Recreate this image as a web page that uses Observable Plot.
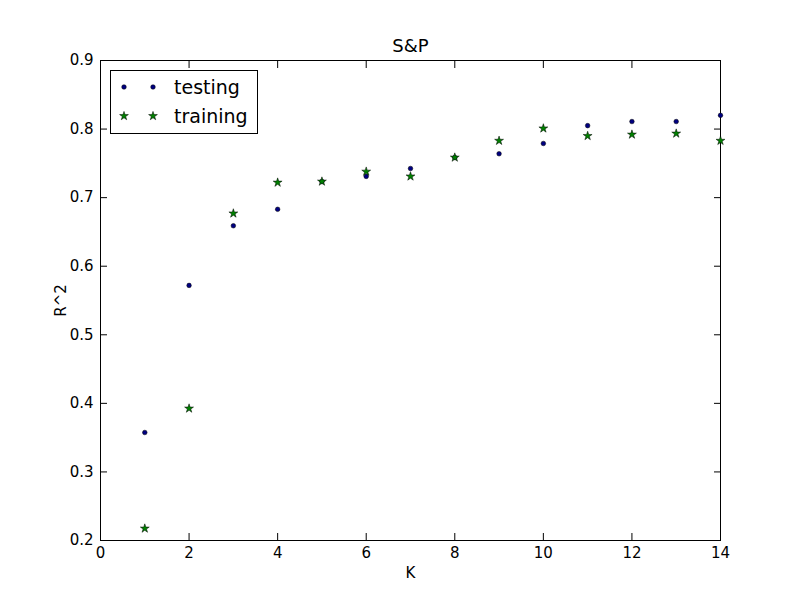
<!DOCTYPE html>
<html><head>
<script src="https://cdn.jsdelivr.net/npm/d3@7"></script>
<script src="https://cdn.jsdelivr.net/npm/@observablehq/plot@0.6"></script>
<style>
body{margin:0;background:#fff;font-family:"DejaVu Sans",sans-serif}
#wrap{position:relative;width:800px;height:600px}
#legend{position:absolute;left:110px;top:70px;width:148px;height:64px;border:1px solid #000;background:#fff;font-size:19px;box-sizing:border-box}
#legend div{position:absolute;left:0;height:26px;line-height:26px}
</style>
</head><body>
<div id="wrap"><div id="chart"></div>
<div id="legend">
<div style="top:3px"><svg width="60" height="26"><circle cx="13" cy="13" r="2.3" fill="#000080" stroke="#000" stroke-width="0.5"/><circle cx="42" cy="13" r="2.3" fill="#000080" stroke="#000" stroke-width="0.5"/></svg><span style="position:absolute;left:63px">testing</span></div>
<div style="top:32px"><svg width="60" height="26" id="stars"></svg><span style="position:absolute;left:63px">training</span></div>
</div></div>
<script>
const K = [1,2,3,4,5,6,7,8,9,10,11,12,13,14];
const testing = [0.3575,0.572,0.659,0.683,0.7235,0.731,0.7425,0.7585,0.764,0.779,0.805,0.811,0.811,0.82];
const training = [0.2175,0.3925,0.677,0.722,0.7235,0.738,0.731,0.7585,0.783,0.801,0.79,0.792,0.7935,0.783];
const xTicks = [0,2,4,6,8,10,12,14];
const yTicks = [0.2,0.3,0.4,0.5,0.6,0.7,0.8,0.9];

const star = d3.symbol(d3.symbolStar, 24)();
d3.select("#stars").selectAll("path").data([13,42]).join("path")
  .attr("d", star).attr("transform", d => `translate(${d},13)`)
  .attr("fill", "#008000").attr("stroke", "#000").attr("stroke-width", 0.5);

const test = K.map((k, i) => ({k, r: testing[i]}));
const train = K.map((k, i) => ({k, r: training[i]}));
const blank = () => "";

const chart = Plot.plot({
  width: 800, height: 600,
  marginLeft: 100, marginRight: 80, marginTop: 60, marginBottom: 60,
  style: {fontFamily: "DejaVu Sans", fontSize: "15px", color: "#000"},
  x: {domain: [0, 14]},
  y: {domain: [0.2, 0.9]},
  marks: [
    Plot.frame({stroke: "#000"}),
    Plot.axisX({ticks: xTicks, tickSize: -7, tickPadding: 14, label: "K", labelAnchor: "center", labelArrow: "none", labelOffset: 37, fontSize: 15}),
    Plot.axisX({anchor: "top", ticks: xTicks, tickSize: -7, tickFormat: blank, label: null}),
    Plot.axisY({ticks: yTicks, tickSize: -7, tickPadding: 14, tickFormat: d3.format(".1f"), label: "R^2", labelAnchor: "center", labelArrow: "none", labelOffset: 45, fontSize: 15}),
    Plot.axisY({anchor: "right", ticks: yTicks, tickSize: -7, tickFormat: blank, label: null}),
    Plot.dot(test, {x: "k", y: "r", r: 2.3, fill: "#000080", stroke: "#000", strokeWidth: 0.5}),
    Plot.dot(train, {x: "k", y: "r", symbol: "star", r: 2.8, fill: "#008000", stroke: "#000", strokeWidth: 0.5}),
    Plot.text(["S&P"], {frameAnchor: "top", dy: -21, fontSize: 18})
  ]
});
document.getElementById("chart").append(chart);
</script>
</body></html>
